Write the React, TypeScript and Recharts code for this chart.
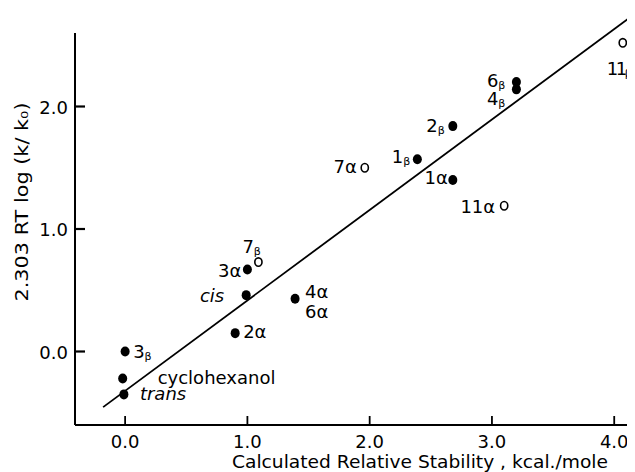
import React from 'react';
import { ScatterChart, Scatter, XAxis, YAxis, ReferenceLine, Label } from 'recharts';

// ---- data ----
const filledNames = ['3β', 'cyclohexanol', 'trans', '3α', 'cis', '2α', '4α/6α', '1β', '1α', '2β', '6β', '4β'];
const filledX = [0.0, -0.02, -0.01, 1.0, 0.99, 0.9, 1.39, 2.39, 2.68, 2.68, 3.2, 3.2];
const filledY = [0.0, -0.22, -0.35, 0.67, 0.46, 0.15, 0.43, 1.57, 1.4, 1.84, 2.2, 2.14];

const openNames = ['7β', '7α', '11α', '11β'];
const openX = [1.09, 1.96, 3.1, 4.07];
const openY = [0.73, 1.5, 1.19, 2.52];

const fitX = [-0.18, 4.2];
const fitY = [-0.454, 2.78];

const xTicks = [0, 1, 2, 3, 4];
const yTicks = [0, 1, 2];

const xTitle = 'Calculated  Relative Stability , kcal./mole';
const yTitle = '2.303 RT log (k/ k₀)';

// ---- styles ----
const FONT = 'DejaVu Sans';
const FS = 18;

type Pos = { dx: number; dy: number; anchor: 'start' | 'end'; italic?: boolean; ls?: number };
const LABEL_POS: Record<string, Pos> = {
  '3β': { dx: 8, dy: 6, anchor: 'start' },
  cyclohexanol: { dx: 35, dy: 6, anchor: 'start' },
  trans: { dx: 16, dy: 6, anchor: 'start', italic: true },
  '3α': { dx: -6, dy: 8, anchor: 'end' },
  cis: { dx: -22, dy: 7, anchor: 'end', italic: true },
  '2α': { dx: 8, dy: 5, anchor: 'start' },
  '4α/6α': { dx: 10, dy: -1, anchor: 'start' },
  '1β': { dx: -7, dy: 4, anchor: 'end' },
  '1α': { dx: -5, dy: 4, anchor: 'end' },
  '2β': { dx: -8, dy: 6, anchor: 'end' },
  '6β': { dx: -11, dy: 5, anchor: 'end' },
  '4β': { dx: -11, dy: 16, anchor: 'end' },
  '7β': { dx: -16, dy: -9, anchor: 'start' },
  '7α': { dx: -8, dy: 5, anchor: 'end' },
  '11α': { dx: -9, dy: 7, anchor: 'end' },
  '11β': { dx: -16, dy: 32, anchor: 'start', ls: -2.5 },
};

const filledData = filledNames.map((name, i) => ({ name, x: filledX[i], y: filledY[i] }));
const openData = openNames.map((name, i) => ({ name, x: openX[i], y: openY[i] }));

const LabelText = ({ x, y, text, anchor, italic, ls }: any) => {
  const sub = text.endsWith('β') && text.length > 1;
  const base = sub ? text.slice(0, -1) : text;
  return (
    <text
      x={x}
      y={y}
      textAnchor={anchor}
      fontFamily={FONT}
      fontSize={FS}
      fontStyle={italic ? 'italic' : 'normal'}
      fill="#000"
      letterSpacing={ls}
    >
      {base}
      {sub ? (
        <tspan fontSize={11} dy={2} fill="#000">
          β
        </tspan>
      ) : null}
    </text>
  );
};

const makeShape = (open: boolean) => (props: any) => {
  const { cx, cy, payload } = props;
  const pos = LABEL_POS[payload.name];
  const lines: string[] = payload.name.split('/');
  return (
    <g>
      {open ? (
        <ellipse cx={cx} cy={cy} rx={3.6} ry={4.2} fill="#fff" stroke="#000" strokeWidth={1.6} />
      ) : (
        <ellipse cx={cx} cy={cy} rx={4.5} ry={5} fill="#000" />
      )}
      {pos
        ? lines.map((ln, i) => (
            <LabelText
              key={i}
              x={cx + pos.dx}
              y={cy + pos.dy + i * 20}
              text={ln}
              anchor={pos.anchor}
              italic={pos.italic}
              ls={pos.ls}
            />
          ))
        : null}
    </g>
  );
};

const XTick = (props: any) => {
  const { x, y, payload } = props;
  return (
    <g>
      <line x1={x} y1={y} x2={x} y2={y - 9} stroke="#000" strokeWidth={1.8} />
      <text x={x} y={y + 23} textAnchor="middle" fontFamily={FONT} fontSize={FS} fill="#000">
        {Number(payload.value).toFixed(1)}
      </text>
    </g>
  );
};

const YTick = (props: any) => {
  const { x, y, payload } = props;
  return (
    <g>
      <line x1={x} y1={y} x2={x + 10} y2={y} stroke="#000" strokeWidth={2.2} />
      <text x={x - 7} y={y + 7} textAnchor="end" fontFamily={FONT} fontSize={FS} fill="#000">
        {Number(payload.value).toFixed(1)}
      </text>
    </g>
  );
};

const XTitle = (props: any) => {
  const vb = props.viewBox || { x: 67, y: 417 };
  return (
    <text
      x={vb.x + 157}
      y={vb.y + 43}
      fontFamily={FONT}
      fontSize={17}
      fill="#000"
      textLength={376}
      lengthAdjust="spacingAndGlyphs"
    >
      {xTitle}
    </text>
  );
};

const YTitle = (props: any) => {
  const vb = props.viewBox || { x: 0, y: 25, height: 392 };
  const cx = vb.x + 20;
  const cy = 194;
  return (
    <text
      x={cx}
      y={cy}
      transform={`rotate(-90 ${cx} ${cy})`}
      textAnchor="middle"
      fontFamily={FONT}
      fontSize={17}
      fill="#000"
      textLength={199}
      lengthAdjust="spacingAndGlyphs"
    >
      {yTitle}
    </text>
  );
};

export default function App() {
  return (
    <ScatterChart width={627} height={464} margin={{ top: 25, right: 0, bottom: 0, left: 0 }}>
      <XAxis
        type="number"
        dataKey="x"
        domain={[-0.41, 4.17]}
        ticks={xTicks}
        allowDataOverflow
        height={47}
        tickSize={0}
        tickMargin={0}
        tickLine={false}
        axisLine={{ stroke: '#000', strokeWidth: 2 }}
        tick={<XTick />}
        interval={0}
      >
        <Label content={<XTitle />} />
      </XAxis>
      <YAxis
        type="number"
        dataKey="y"
        domain={[-0.6, 2.6]}
        ticks={yTicks}
        allowDataOverflow
        width={67}
        tickSize={0}
        tickMargin={0}
        tickLine={false}
        axisLine={{ stroke: '#000', strokeWidth: 2 }}
        tick={<YTick />}
        interval={0}
      >
        <Label content={<YTitle />} />
      </YAxis>
      <ReferenceLine
        segment={[
          { x: fitX[0], y: fitY[0] },
          { x: fitX[1], y: fitY[1] },
        ]}
        stroke="#000"
        strokeWidth={1.8}
        ifOverflow="visible"
      />
      <Scatter data={filledData} shape={makeShape(false)} isAnimationActive={false} />
      <Scatter data={openData} shape={makeShape(true)} isAnimationActive={false} />
    </ScatterChart>
  );
}
